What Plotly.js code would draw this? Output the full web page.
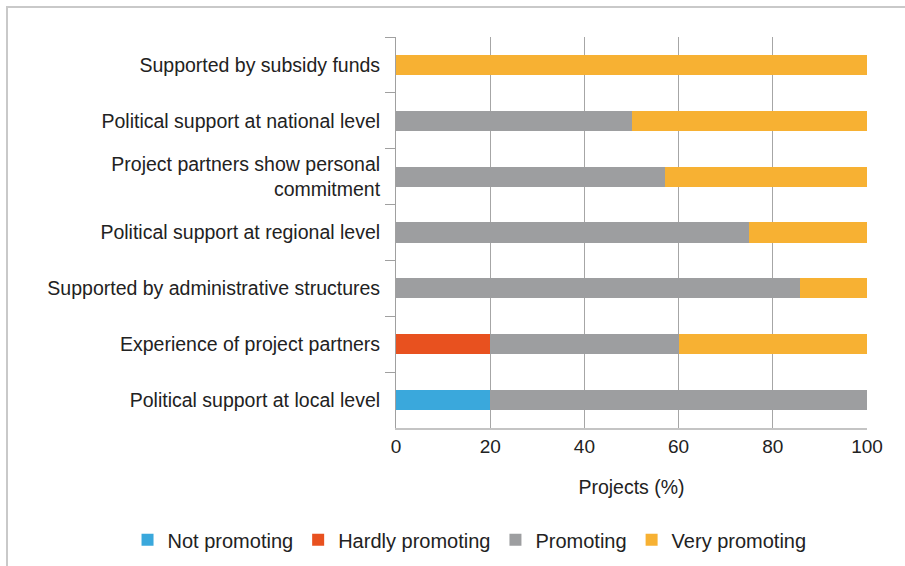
<!DOCTYPE html>
<html>
<head>
<meta charset="utf-8">
<script src="https://cdn.plot.ly/plotly-3.0.1.min.js"></script>
<style>
  html, body { margin: 0; padding: 0; background: #fff; }
  #wrap { position: relative; width: 905px; height: 566px; overflow: hidden; }
  #chart { position: absolute; left: 0; top: 0; width: 905px; height: 566px; }
  #frame { position: absolute; left: 6px; top: 6px; width: 920px; height: 600px;
           border-left: 2px solid #c9c9c9; border-top: 2px solid #c9c9c9; pointer-events: none; }
</style>
</head>
<body>
<div id="wrap">
  <div id="chart"></div>
  <div id="frame"></div>
</div>
<script>
const categories = [
  "Supported by subsidy funds",
  "Political support at national level",
  "Project partners show personal<br>commitment",
  "Political support at regional level",
  "Supported by administrative structures",
  "Experience of project partners",
  "Political support at local level"
];
const seriesNames = ["Not promoting", "Hardly promoting", "Promoting", "Very promoting"];
const notPromoting    = [0, 0, 0, 0, 0, 0, 20];
const hardlyPromoting = [0, 0, 0, 0, 0, 20, 0];
const promoting       = [0, 50, 57.1, 75, 85.7, 40, 80];
const veryPromoting   = [100, 50, 42.9, 25, 14.3, 40, 0];
const xTicks = [0, 20, 40, 60, 80, 100];

const colors = ["#3aa8dc", "#e8511f", "#9d9ea0", "#f7b133"];
const values = [notPromoting, hardlyPromoting, promoting, veryPromoting];

const traces = values.map((v, i) => ({
  type: "bar",
  orientation: "h",
  name: seriesNames[i],
  y: categories,
  x: v,
  marker: { color: colors[i], line: { width: 0 } },
  hoverinfo: "x+y+name"
}));

const layout = {
  width: 905, height: 566,
  margin: { l: 396, r: 38, t: 37, b: 138, autoexpand: false },
  barmode: "stack",
  bargap: 0.64,
  paper_bgcolor: "#fff",
  plot_bgcolor: "#fff",
  font: { family: "Liberation Sans, Arial, sans-serif", color: "#222", size: 19.5 },
  showlegend: true,
  legend: {
    orientation: "h",
    xref: "paper", yref: "paper",
    x: -0.57, xanchor: "left",
    y: -0.286, yanchor: "middle",
    font: { size: 20, color: "#222" },
    traceorder: "normal",
    itemwidth: 30
  },
  xaxis: {
    range: [0, 100],
    tickvals: xTicks,
    ticktext: xTicks.map(String),
    showgrid: true,
    gridcolor: "#a6a6a6",
    gridwidth: 1,
    zeroline: false,
    showline: true,
    linecolor: "#c4c4c4",
    linewidth: 2,
    ticks: "",
    tickfont: { size: 19, color: "#222" },
    title: { text: "Projects (%)", font: { size: 19.5, color: "#222" }, standoff: 25 },
    automargin: false,
    fixedrange: true
  },
  yaxis: {
    type: "category",
    autorange: "reversed",
    showline: true,
    linecolor: "#a0a0a0",
    linewidth: 1,
    ticks: "outside",
    tickson: "boundaries",
    ticklen: 10,
    tickcolor: "#a0a0a0",
    tickwidth: 1,
    showgrid: false,
    tickfont: { size: 19.5, color: "#222" },
    ticklabelstandoff: 11,
    automargin: false,
    fixedrange: true
  }
};

Plotly.newPlot("chart", traces, layout, { displayModeBar: false, staticPlot: true });
</script>
</body>
</html>
